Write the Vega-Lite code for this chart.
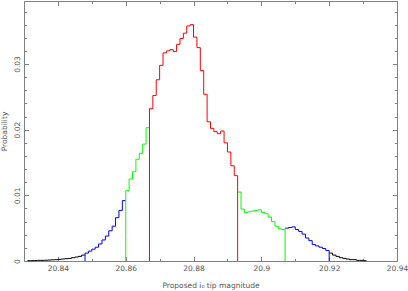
{
  "$schema": "https://vega.github.io/schema/vega-lite/v6.json",
  "width": 373,
  "height": 260,
  "autosize": {"type": "none"},
  "padding": {"left": 24, "top": 1, "right": 11, "bottom": 30},
  "background": "white",
  "config": {
    "view": {"stroke": "#808080", "strokeWidth": 1},
    "font": "DejaVu Sans",
    "axis": {
      "domain": false, "grid": false, "tickColor": "#808080", "tickWidth": 1,
      "labelFont": "DejaVu Sans", "labelFontSize": 7.5, "labelColor": "#555555",
      "titleFont": "DejaVu Sans", "titleFontSize": 7.5, "titleFontWeight": "normal", "titleColor": "#555555",
      "labelFlush": false, "labelOverlap": false
    }
  },
  "datasets": {
    "hist": [
      {"seg":"tailL","band":"tail","x0":20.831,"x1":20.832,"p":0.00005},
      {"seg":"tailL","band":"tail","x0":20.832,"x1":20.833,"p":0.00005},
      {"seg":"tailL","band":"tail","x0":20.833,"x1":20.834,"p":0.00008},
      {"seg":"tailL","band":"tail","x0":20.834,"x1":20.835,"p":0.0001},
      {"seg":"tailL","band":"tail","x0":20.835,"x1":20.836,"p":0.0001},
      {"seg":"tailL","band":"tail","x0":20.836,"x1":20.837,"p":0.00012},
      {"seg":"tailL","band":"tail","x0":20.837,"x1":20.838,"p":0.00015},
      {"seg":"tailL","band":"tail","x0":20.838,"x1":20.839,"p":0.00018},
      {"seg":"tailL","band":"tail","x0":20.839,"x1":20.84,"p":0.0002},
      {"seg":"tailL","band":"tail","x0":20.84,"x1":20.841,"p":0.00025},
      {"seg":"tailL","band":"tail","x0":20.841,"x1":20.842,"p":0.0003},
      {"seg":"tailL","band":"tail","x0":20.842,"x1":20.843,"p":0.00035},
      {"seg":"tailL","band":"tail","x0":20.843,"x1":20.844,"p":0.0004},
      {"seg":"tailL","band":"tail","x0":20.844,"x1":20.845,"p":0.0005},
      {"seg":"tailL","band":"tail","x0":20.845,"x1":20.846,"p":0.0006},
      {"seg":"tailL","band":"tail","x0":20.846,"x1":20.847,"p":0.0007},
      {"seg":"tailL","band":"tail","x0":20.847,"x1":20.848,"p":0.0009},
      {"seg":"blueL","band":"blue","x0":20.848,"x1":20.849,"p":0.0012},
      {"seg":"blueL","band":"blue","x0":20.849,"x1":20.85,"p":0.0015},
      {"seg":"blueL","band":"blue","x0":20.85,"x1":20.851,"p":0.0018},
      {"seg":"blueL","band":"blue","x0":20.851,"x1":20.852,"p":0.0021},
      {"seg":"blueL","band":"blue","x0":20.852,"x1":20.853,"p":0.0026},
      {"seg":"blueL","band":"blue","x0":20.853,"x1":20.854,"p":0.0032},
      {"seg":"blueL","band":"blue","x0":20.854,"x1":20.855,"p":0.0038},
      {"seg":"blueL","band":"blue","x0":20.855,"x1":20.856,"p":0.0046},
      {"seg":"blueL","band":"blue","x0":20.856,"x1":20.857,"p":0.0053},
      {"seg":"blueL","band":"blue","x0":20.857,"x1":20.858,"p":0.0066},
      {"seg":"blueL","band":"blue","x0":20.858,"x1":20.859,"p":0.0077},
      {"seg":"blueL","band":"blue","x0":20.859,"x1":20.86,"p":0.0092},
      {"seg":"greenL","band":"green","x0":20.86,"x1":20.861,"p":0.0107},
      {"seg":"greenL","band":"green","x0":20.861,"x1":20.862,"p":0.0125},
      {"seg":"greenL","band":"green","x0":20.862,"x1":20.863,"p":0.0136},
      {"seg":"greenL","band":"green","x0":20.863,"x1":20.864,"p":0.0155},
      {"seg":"greenL","band":"green","x0":20.864,"x1":20.865,"p":0.0164},
      {"seg":"greenL","band":"green","x0":20.865,"x1":20.866,"p":0.0178},
      {"seg":"greenL","band":"green","x0":20.866,"x1":20.867,"p":0.0203},
      {"seg":"red","band":"red","x0":20.867,"x1":20.868,"p":0.0232},
      {"seg":"red","band":"red","x0":20.868,"x1":20.869,"p":0.0252},
      {"seg":"red","band":"red","x0":20.869,"x1":20.87,"p":0.0276},
      {"seg":"red","band":"red","x0":20.87,"x1":20.871,"p":0.0298},
      {"seg":"red","band":"red","x0":20.871,"x1":20.872,"p":0.0317},
      {"seg":"red","band":"red","x0":20.872,"x1":20.873,"p":0.032},
      {"seg":"red","band":"red","x0":20.873,"x1":20.874,"p":0.0322},
      {"seg":"red","band":"red","x0":20.874,"x1":20.875,"p":0.0319},
      {"seg":"red","band":"red","x0":20.875,"x1":20.876,"p":0.033},
      {"seg":"red","band":"red","x0":20.876,"x1":20.877,"p":0.0339},
      {"seg":"red","band":"red","x0":20.877,"x1":20.878,"p":0.0347},
      {"seg":"red","band":"red","x0":20.878,"x1":20.879,"p":0.0358},
      {"seg":"red","band":"red","x0":20.879,"x1":20.88,"p":0.036},
      {"seg":"red","band":"red","x0":20.88,"x1":20.881,"p":0.0341},
      {"seg":"red","band":"red","x0":20.881,"x1":20.882,"p":0.0325},
      {"seg":"red","band":"red","x0":20.882,"x1":20.883,"p":0.029},
      {"seg":"red","band":"red","x0":20.883,"x1":20.884,"p":0.0254},
      {"seg":"red","band":"red","x0":20.884,"x1":20.885,"p":0.0212},
      {"seg":"red","band":"red","x0":20.885,"x1":20.886,"p":0.0202},
      {"seg":"red","band":"red","x0":20.886,"x1":20.887,"p":0.0197},
      {"seg":"red","band":"red","x0":20.887,"x1":20.888,"p":0.0194},
      {"seg":"red","band":"red","x0":20.888,"x1":20.889,"p":0.0198},
      {"seg":"red","band":"red","x0":20.889,"x1":20.89,"p":0.018},
      {"seg":"red","band":"red","x0":20.89,"x1":20.891,"p":0.0166},
      {"seg":"red","band":"red","x0":20.891,"x1":20.892,"p":0.0145},
      {"seg":"red","band":"red","x0":20.892,"x1":20.893,"p":0.013},
      {"seg":"greenR","band":"green","x0":20.893,"x1":20.894,"p":0.0105},
      {"seg":"greenR","band":"green","x0":20.894,"x1":20.895,"p":0.0079},
      {"seg":"greenR","band":"green","x0":20.895,"x1":20.896,"p":0.0074},
      {"seg":"greenR","band":"green","x0":20.896,"x1":20.897,"p":0.0075},
      {"seg":"greenR","band":"green","x0":20.897,"x1":20.898,"p":0.0076},
      {"seg":"greenR","band":"green","x0":20.898,"x1":20.899,"p":0.0077},
      {"seg":"greenR","band":"green","x0":20.899,"x1":20.9,"p":0.0078},
      {"seg":"greenR","band":"green","x0":20.9,"x1":20.901,"p":0.0074},
      {"seg":"greenR","band":"green","x0":20.901,"x1":20.902,"p":0.0072},
      {"seg":"greenR","band":"green","x0":20.902,"x1":20.903,"p":0.0067},
      {"seg":"greenR","band":"green","x0":20.903,"x1":20.904,"p":0.006},
      {"seg":"greenR","band":"green","x0":20.904,"x1":20.905,"p":0.0053},
      {"seg":"greenR","band":"green","x0":20.905,"x1":20.906,"p":0.0049},
      {"seg":"greenR","band":"green","x0":20.906,"x1":20.907,"p":0.0048},
      {"seg":"blueR","band":"blue","x0":20.907,"x1":20.908,"p":0.005},
      {"seg":"blueR","band":"blue","x0":20.908,"x1":20.909,"p":0.0051},
      {"seg":"blueR","band":"blue","x0":20.909,"x1":20.91,"p":0.0052},
      {"seg":"blueR","band":"blue","x0":20.91,"x1":20.911,"p":0.0048},
      {"seg":"blueR","band":"blue","x0":20.911,"x1":20.912,"p":0.0045},
      {"seg":"blueR","band":"blue","x0":20.912,"x1":20.913,"p":0.0041},
      {"seg":"blueR","band":"blue","x0":20.913,"x1":20.914,"p":0.0035},
      {"seg":"blueR","band":"blue","x0":20.914,"x1":20.915,"p":0.0031},
      {"seg":"blueR","band":"blue","x0":20.915,"x1":20.916,"p":0.0025},
      {"seg":"blueR","band":"blue","x0":20.916,"x1":20.917,"p":0.0023},
      {"seg":"blueR","band":"blue","x0":20.917,"x1":20.918,"p":0.0021},
      {"seg":"blueR","band":"blue","x0":20.918,"x1":20.919,"p":0.0019},
      {"seg":"blueR","band":"blue","x0":20.919,"x1":20.92,"p":0.0016},
      {"seg":"tailR","band":"tail","x0":20.92,"x1":20.921,"p":0.0012},
      {"seg":"tailR","band":"tail","x0":20.921,"x1":20.922,"p":0.0009},
      {"seg":"tailR","band":"tail","x0":20.922,"x1":20.923,"p":0.0007},
      {"seg":"tailR","band":"tail","x0":20.923,"x1":20.924,"p":0.0005},
      {"seg":"tailR","band":"tail","x0":20.924,"x1":20.925,"p":0.0004},
      {"seg":"tailR","band":"tail","x0":20.925,"x1":20.926,"p":0.0003},
      {"seg":"tailR","band":"tail","x0":20.926,"x1":20.927,"p":0.0002},
      {"seg":"tailR","band":"tail","x0":20.927,"x1":20.928,"p":0.0002},
      {"seg":"tailR","band":"tail","x0":20.928,"x1":20.929,"p":0.0001},
      {"seg":"tailR","band":"tail","x0":20.929,"x1":20.93,"p":0.0001},
      {"seg":"tailR","band":"tail","x0":20.93,"x1":20.931,"p":0.00005}
    ],
    "edges": [
      {"side":"L","band":"blue","x":20.848,"top":0.0012},
      {"side":"L","band":"green","x":20.86,"top":0.0107},
      {"side":"L","band":"red","x":20.867,"top":0.0232},
      {"side":"R","band":"red","x":20.893,"top":0.013},
      {"side":"R","band":"green","x":20.907,"top":0.005},
      {"side":"R","band":"blue","x":20.92,"top":0.0016}
    ]
  },
  "layer": [
    {
      "data": {"name": "hist"},
      "transform": [
        {"filter": "datum.band != 'tail'"},
        {"fold": ["x0", "x1"], "as": ["end", "x"]}
      ],
      "mark": {"type": "line", "strokeWidth": 1},
      "encoding": {
        "x": {
          "field": "x", "type": "quantitative",
          "scale": {"domain": [20.83, 20.94], "nice": false, "zero": false},
          "axis": {
            "orient": "bottom", "values": [20.84, 20.86, 20.88, 20.9, 20.92, 20.94],
            "tickSize": -4.5, "labelPadding": 13.8, "labelBaseline": "alphabetic",
            "labelExpr": "toString(round(datum.value*100)/100)",
            "title": "Proposed i₀ tip magnitude", "titleX": 186.5, "titleY": 26,
            "titleBaseline": "alphabetic", "titleAlign": "center"
          }
        },
        "y": {
          "field": "p", "type": "quantitative",
          "scale": {"domain": [0, 0.0396], "nice": false},
          "axis": {
            "orient": "left", "values": [0, 0.01, 0.02, 0.03],
            "tickSize": -4.5, "labelPadding": 9.2, "labelAngle": -90,
            "labelAlign": "center", "labelBaseline": "alphabetic",
            "labelExpr": "toString(round(datum.value*100)/100)",
            "title": "Probability", "titleX": -18, "titleY": 130, "titleAngle": -90,
            "titleBaseline": "alphabetic", "titleAlign": "center"
          }
        },
        "color": {
          "field": "band", "type": "nominal",
          "scale": {"domain": ["blue", "green", "red", "tail"], "range": ["#0000ff", "#00ff00", "#ff0000", "#000000"]},
          "legend": null
        },
        "detail": {"field": "seg"},
        "order": [{"field": "x", "sort": "ascending"}, {"field": "end", "sort": "descending"}]
      }
    },
    {
      "data": {"name": "hist"},
      "transform": [
        {"filter": "datum.band == 'tail'"},
        {"fold": ["x0", "x1"], "as": ["end", "x"]}
      ],
      "mark": {"type": "line", "strokeWidth": 1},
      "encoding": {
        "x": {
          "field": "x", "type": "quantitative",
          "axis": {"orient": "bottom", "values": [20.83, 20.85, 20.87, 20.89, 20.91, 20.93], "tickSize": -2.7, "labels": false, "title": null}
        },
        "y": {
          "field": "p", "type": "quantitative",
          "axis": {"orient": "left", "values": [0.002, 0.004, 0.006, 0.008, 0.012, 0.014, 0.016, 0.018, 0.022, 0.024, 0.026, 0.028, 0.032, 0.034, 0.036, 0.038], "tickSize": -2.7, "labels": false, "title": null}
        },
        "color": {"field": "band", "type": "nominal", "legend": null},
        "detail": {"field": "seg"},
        "order": [{"field": "x", "sort": "ascending"}, {"field": "end", "sort": "descending"}]
      }
    },
    {
      "data": {"name": "edges"},
      "transform": [{"filter": "datum.side == 'L'"}],
      "mark": {"type": "rule", "strokeWidth": 1},
      "encoding": {
        "x": {
          "field": "x", "type": "quantitative",
          "axis": {"orient": "top", "values": [20.84, 20.86, 20.88, 20.9, 20.92, 20.94], "tickSize": -4.5, "labels": false, "title": null}
        },
        "y": {
          "field": "top", "type": "quantitative",
          "axis": {"orient": "right", "values": [0, 0.01, 0.02, 0.03], "tickSize": -4.5, "labels": false, "title": null}
        },
        "y2": {"datum": 0},
        "color": {"field": "band", "type": "nominal", "legend": null}
      }
    },
    {
      "data": {"name": "edges"},
      "transform": [{"filter": "datum.side == 'R'"}],
      "mark": {"type": "rule", "strokeWidth": 1},
      "encoding": {
        "x": {
          "field": "x", "type": "quantitative",
          "axis": {"orient": "top", "values": [20.83, 20.85, 20.87, 20.89, 20.91, 20.93], "tickSize": -2.7, "labels": false, "title": null}
        },
        "y": {
          "field": "top", "type": "quantitative",
          "axis": {"orient": "right", "values": [0.002, 0.004, 0.006, 0.008, 0.012, 0.014, 0.016, 0.018, 0.022, 0.024, 0.026, 0.028, 0.032, 0.034, 0.036, 0.038], "tickSize": -2.7, "labels": false, "title": null}
        },
        "y2": {"datum": 0},
        "color": {"field": "band", "type": "nominal", "legend": null}
      }
    }
  ],
  "resolve": {"axis": {"x": "independent", "y": "independent"}}
}
